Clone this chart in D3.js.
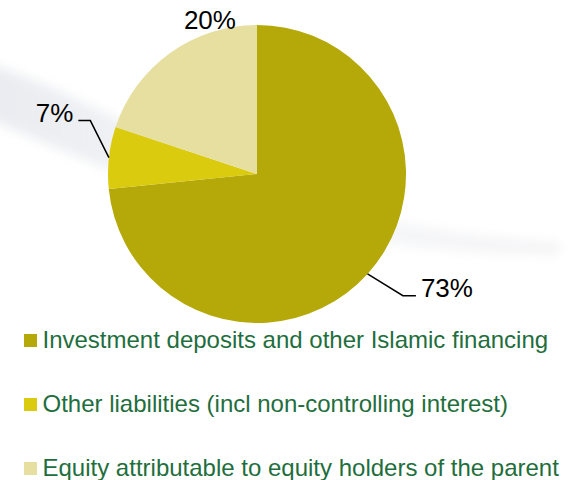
<!DOCTYPE html>
<html>
<head>
<meta charset="utf-8">
<script src="https://cdn.jsdelivr.net/npm/d3@7"></script>
<style>
  html, body { margin: 0; padding: 0; background: #fff; }
  svg { display: block; font-family: "Liberation Sans", Arial, sans-serif; }
</style>
</head>
<body>
<svg id="chart" width="577" height="480"></svg>
<script>
// Funding structure pie: olive / yellow / pale slices, legend below.
const categories = [
  "Investment deposits and other Islamic financing",
  "Other liabilities (incl non-controlling interest)",
  "Equity attributable to equity holders of the parent"
];
const values = [73.4, 6.7, 19.9];
const colors = ["#b4a908", "#dacb0e", "#e6dfa0"];

const w = 577, h = 480;
const cx = 257, cy = 174, r = 149;

const svg = d3.select("#chart");

// faint background swoosh
const defs = svg.append("defs");
defs.append("filter").attr("id", "blur")
  .attr("x", "-20%").attr("y", "-50%").attr("width", "140%").attr("height", "200%")
  .append("feGaussianBlur").attr("stdDeviation", 6);
const sw = defs.append("linearGradient").attr("id", "sw")
  .attr("x1", "0").attr("x2", "1").attr("y1", "0").attr("y2", "0");
sw.append("stop").attr("offset", "0").attr("stop-color", "#e2e4ea").attr("stop-opacity", 0.75);
sw.append("stop").attr("offset", "0.6").attr("stop-color", "#eceef2").attr("stop-opacity", 0.45);
sw.append("stop").attr("offset", "1").attr("stop-color", "#e4e4e8").attr("stop-opacity", 0.45);

svg.append("path")
  .attr("d", "M-20,62 C120,100 250,225 560,243 L560,254 C300,256 130,180 -20,115 Z")
  .attr("fill", "url(#sw)")
  .attr("filter", "url(#blur)");

// pie
const pie = d3.pie().sort(null).value(d => d.v);
const arcs = pie(values.map((v, i) => ({ v, i })));
const arc = d3.arc().innerRadius(0).outerRadius(r);

const g = svg.append("g").attr("transform", `translate(${cx},${cy})`);
g.selectAll("path.slice").data(arcs).join("path")
  .attr("class", "slice")
  .attr("d", arc)
  .attr("fill", d => colors[d.data.i]);

// labels: elbow radius / horizontal run / side; 20% sits just outside, no leader
const labelLayout = [
  { leader: true, elbowR: 190, run: 13, dir: 1 },
  { leader: true, elbowR: 175, run: 12, dir: -1 },
  { leader: false, angle: -0.315, rad: 152 }
];
const polar = (a, rr) => [Math.sin(a) * rr, -Math.cos(a) * rr];

arcs.forEach((d, k) => {
  const L = labelLayout[k];
  const mid = (d.startAngle + d.endAngle) / 2;
  const txt = Math.round(d.data.v) + "%";
  if (L.leader) {
    const p0 = polar(mid, r);
    const elbowA = mid + (L.dir > 0 ? -0.04 : 0.2);
    const p1 = polar(elbowA, L.elbowR);
    const p2 = [p1[0] + L.dir * L.run, p1[1]];
    g.append("path")
      .attr("d", d3.line()([p0, p1, p2]))
      .attr("fill", "none").attr("stroke", "#000").attr("stroke-width", 1.5);
    g.append("text")
      .attr("x", p2[0] + L.dir * 5).attr("y", p2[1] + 1)
      .attr("text-anchor", L.dir > 0 ? "start" : "end")
      .style("font-size", "26px").attr("fill", "#000")
      .text(txt);
  } else {
    const p = polar(d.endAngle + L.angle, L.rad);
    g.append("text")
      .attr("x", p[0]).attr("y", p[1])
      .attr("text-anchor", "middle")
      .style("font-size", "26px").attr("fill", "#000")
      .text(txt);
  }
});

// legend
const leg = svg.append("g");
const row0 = 348, rowH = 64;
const items = leg.selectAll("g.item").data(categories).join("g")
  .attr("class", "item")
  .attr("transform", (_, i) => `translate(24,${row0 + i * rowH})`);
items.append("rect")
  .attr("x", 0).attr("y", -14).attr("width", 13).attr("height", 13)
  .attr("fill", (_, i) => colors[i]);
items.append("text")
  .attr("x", 18.5).attr("y", 0)
  .attr("fill", "#1f6e3d")
  .style("font-size", "24px")
  .text(d => d);
</script>
</body>
</html>
